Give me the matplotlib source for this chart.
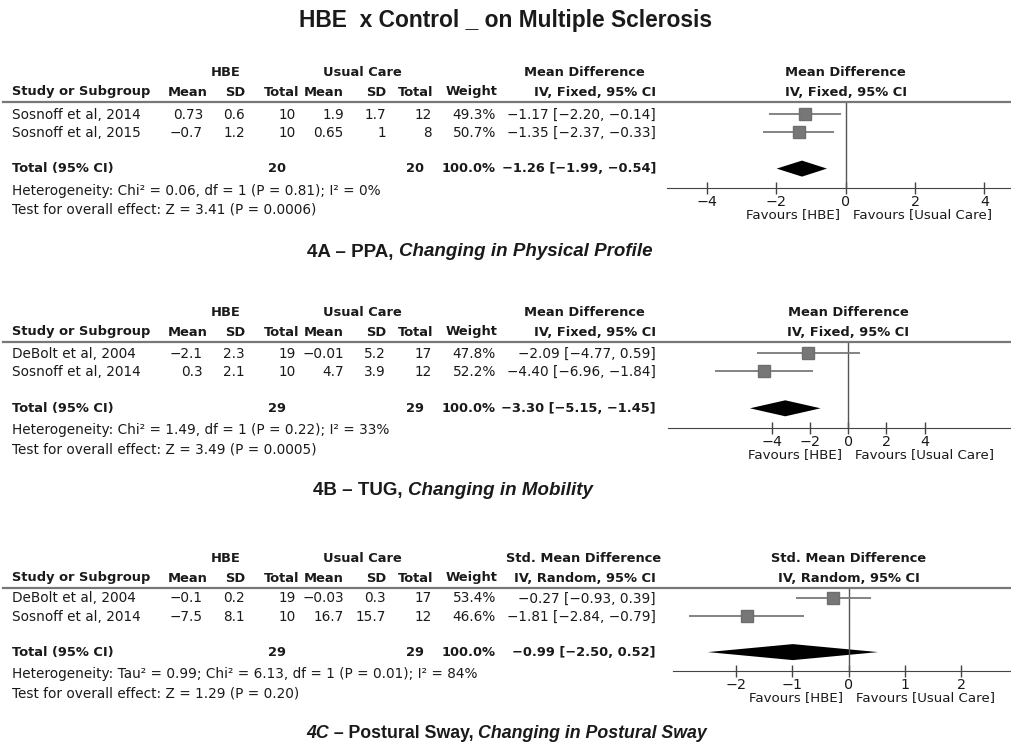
import numpy as np
import matplotlib
matplotlib.use("Agg")
from matplotlib import pyplot as plt
from matplotlib.lines import Line2D

#%% DATA

# 4A - PPA
studies_a = ["Sosnoff et al, 2014", "Sosnoff et al, 2015"]
hbe_mean_a = ["0.73", "\u22120.7"]
hbe_sd_a = ["0.6", "1.2"]
hbe_n_a = [10, 10]
uc_mean_a = ["1.9", "0.65"]
uc_sd_a = ["1.7", "1"]
uc_n_a = [12, 8]
weight_a = [49.3, 50.7]
est_a = [-1.17, -1.35]
lo_a = [-2.20, -2.37]
hi_a = [-0.14, -0.33]
total_a = [-1.26, -1.99, -0.54]
total_n_a = [20, 20]
het_a = "Heterogeneity: Chi\u00b2 = 0.06, df = 1 (P = 0.81); I\u00b2 = 0%"
test_a = "Test for overall effect: Z = 3.41 (P = 0.0006)"
ticks_a = [-4, -2, 0, 2, 4]

# 4B - TUG
studies_b = ["DeBolt et al, 2004", "Sosnoff et al, 2014"]
hbe_mean_b = ["\u22122.1", "0.3"]
hbe_sd_b = ["2.3", "2.1"]
hbe_n_b = [19, 10]
uc_mean_b = ["\u22120.01", "4.7"]
uc_sd_b = ["5.2", "3.9"]
uc_n_b = [17, 12]
weight_b = [47.8, 52.2]
est_b = [-2.09, -4.40]
lo_b = [-4.77, -6.96]
hi_b = [0.59, -1.84]
total_b = [-3.30, -5.15, -1.45]
total_n_b = [29, 29]
het_b = "Heterogeneity: Chi\u00b2 = 1.49, df = 1 (P = 0.22); I\u00b2 = 33%"
test_b = "Test for overall effect: Z = 3.49 (P = 0.0005)"
ticks_b = [-4, -2, 0, 2, 4]

# 4C - Postural sway
studies_c = ["DeBolt et al, 2004", "Sosnoff et al, 2014"]
hbe_mean_c = ["\u22120.1", "\u22127.5"]
hbe_sd_c = ["0.2", "8.1"]
hbe_n_c = [19, 10]
uc_mean_c = ["\u22120.03", "16.7"]
uc_sd_c = ["0.3", "15.7"]
uc_n_c = [17, 12]
weight_c = [53.4, 46.6]
est_c = [-0.27, -1.81]
lo_c = [-0.93, -2.84]
hi_c = [0.39, -0.79]
total_c = [-0.99, -2.50, 0.52]
total_n_c = [29, 29]
het_c = ("Heterogeneity: Tau\u00b2 = 0.99; Chi\u00b2 = 6.13, df = 1 (P = 0.01); "
         "I\u00b2 = 84%")
test_c = "Test for overall effect: Z = 1.29 (P = 0.20)"
ticks_c = [-2, -1, 0, 1, 2]

#%% Figure
W, H = 1012, 747
fig = plt.figure(figsize=(W / 100, H / 100), dpi=100)
FONT = "DejaVu Sans"
FS = 9.8      # regular table text
FSB = 9.4     # bold table text


def fx(x):
    return x / W


def fy(y):
    return 1 - y / H


def txt(x, y, s, ha="left", bold=False, size=None, **kw):
    if size is None:
        size = FSB if bold else FS
    return fig.text(fx(x), fy(y), s, ha=ha, va="center", family=FONT,
                    fontsize=size, fontweight="bold" if bold else "normal",
                    color="#1a1a1a", **kw)


def fmt_ci(e, lo, hi):
    s = "%.2f [%.2f, %.2f]" % (e, lo, hi)
    return s.replace("-", "\u2212")


# column right edges (px): headers and values
hdr_cols = [208, 245, 299, 344, 386, 433, 497, 656]
val_cols = [203, 245, 296, 344, 386, 432, 496, 656]


def panel(top, row0, step, axis_y, zero_px, scale, axis_left, measure,
          model, studies, hm, hs, hn, um, us, un, w, est, lo, hi, tot,
          tot_n, het, test, ticks):
    # headers
    txt(226, top - 29, "HBE", ha="center", bold=True)
    txt(362, top - 29, "Usual Care", ha="center", bold=True)
    txt(584, top - 29, measure, ha="center", bold=True)
    txt(12, top - 10, "Study or Subgroup", bold=True)
    for x, h in zip(hdr_cols, ["Mean", "SD", "Total", "Mean", "SD", "Total",
                               "Weight", model]):
        txt(x, top - 10, h, ha="right", bold=True)
    txt(zero_px, top - 29, measure, ha="center", bold=True)
    txt(zero_px, top - 10, model, ha="center", bold=True)
    fig.add_artist(Line2D([fx(3), fx(W)], [fy(top), fy(top)],
                          color="#777777", lw=1.6))

    # study rows
    for i in range(len(studies)):
        y = row0 + 1 + i * step
        txt(12, y, studies[i])
        vals = [hm[i], hs[i], str(hn[i]), um[i], us[i], str(un[i]),
                "%.1f%%" % w[i], fmt_ci(est[i], lo[i], hi[i])]
        for x, v in zip(val_cols, vals):
            txt(x, y, v, ha="right")
    yt = row0 + 3 * step
    txt(12, yt, "Total (95% CI)", bold=True)
    txt(val_cols[2] - 10, yt, str(tot_n[0]), ha="right", bold=True)
    txt(val_cols[5] - 8, yt, str(tot_n[1]), ha="right", bold=True)
    txt(val_cols[6], yt, "100.0%", ha="right", bold=True)
    txt(val_cols[7], yt, fmt_ci(*tot), ha="right", bold=True)
    txt(12, yt + 22, het)
    txt(12, yt + 41, test)

    # forest plot axes
    left_px, right_px = 660, W
    ax = fig.add_axes([fx(left_px), fy(axis_y), (right_px - left_px) / W,
                       (axis_y - top) / H])
    ax.set_xlim((left_px - zero_px) / scale, (right_px - zero_px) / scale)
    ax.set_ylim((axis_y - row0) / step, (top - row0) / step)
    ax.patch.set_visible(False)
    for s in ["top", "right", "left"]:
        ax.spines[s].set_visible(False)
    ax.spines["bottom"].set_color("#444444")
    ax.spines["bottom"].set_bounds((axis_left - zero_px) / scale,
                                   (right_px - zero_px) / scale)
    ax.set_yticks([])
    ax.set_xticks(ticks)
    ax.set_xticklabels([str(t).replace("-", "\u2212") for t in ticks],
                       family=FONT, fontsize=10.3, color="#1a1a1a")
    ax.tick_params(axis="x", direction="inout", length=8, width=1,
                   color="#444444", pad=1)
    ax.axvline(0, color="#555555", lw=1)

    for i in range(len(studies)):
        ax.plot([lo[i], hi[i]], [i, i], color="#7a7a7a", lw=1.3,
                solid_capstyle="butt")
        ax.plot(est[i], i, marker="s", color="#777777",
                ms=8.8 * np.sqrt(w[i] / 50.0), mec="#6e6e6e")
    dh = 8.0 / step
    ax.fill([tot[1], tot[0], tot[2], tot[0]], [3, 3 - dh, 3, 3 + dh],
            color="black", lw=0)

    txt(zero_px - 6, axis_y + 27, "Favours [HBE]", ha="right", size=9.6)
    txt(zero_px + 7, axis_y + 27, "Favours [Usual Care]", ha="left",
        size=9.6)


def subtitle(x, y, parts, size=13.5):
    # parts: list of (text, italic) drawn one after another
    prev = None
    for s, italic in parts:
        kw = dict(family="Liberation Sans", fontsize=size, fontweight="bold",
                  style="italic" if italic else "normal", color="#1a1a1a")
        if prev is None:
            prev = fig.text(fx(x), fy(y), s, ha="left", va="center", **kw)
        else:
            prev = plt.annotate(s, xy=(1, 0), xycoords=prev, ha="left",
                                va="bottom", **kw)


fig.text(0.5, fy(21), "HBE  x Control _ on Multiple Sclerosis", ha="center",
         va="center", family="Liberation Sans", fontsize=16.4,
         fontweight="bold", color="#1a1a1a")

panel(102, 114, 18.2, 188, 845.7, 34.7, 667, "Mean Difference",
      "IV, Fixed, 95% CI", studies_a, hbe_mean_a, hbe_sd_a, hbe_n_a,
      uc_mean_a, uc_sd_a, uc_n_a, weight_a, est_a, lo_a, hi_a, total_a,
      total_n_a, het_a, test_a, ticks_a)
subtitle(307, 252, [("4A \u2013 PPA, ", False),
                    ("Changing in Physical Profile", True)])

panel(342, 352.5, 18.6, 428, 848.3, 19.1, 668, "Mean Difference",
      "IV, Fixed, 95% CI", studies_b, hbe_mean_b, hbe_sd_b, hbe_n_b,
      uc_mean_b, uc_sd_b, uc_n_b, weight_b, est_b, lo_b, hi_b, total_b,
      total_n_b, het_b, test_b, ticks_b)
subtitle(313, 491, [("4B \u2013 TUG, ", False),
                    ("Changing in Mobility", True)])

panel(588, 597.5, 18.2, 671, 848.7, 56.4, 673, "Std. Mean Difference",
      "IV, Random, 95% CI", studies_c, hbe_mean_c, hbe_sd_c, hbe_n_c,
      uc_mean_c, uc_sd_c, uc_n_c, weight_c, est_c, lo_c, hi_c, total_c,
      total_n_c, het_c, test_c, ticks_c)
subtitle(306, 733, [("4C", True), (" \u2013 Postural Sway, ", False),
                    ("Changing in Postural Sway", True)], size=12.8)

plt.savefig("out.png", dpi=100)
